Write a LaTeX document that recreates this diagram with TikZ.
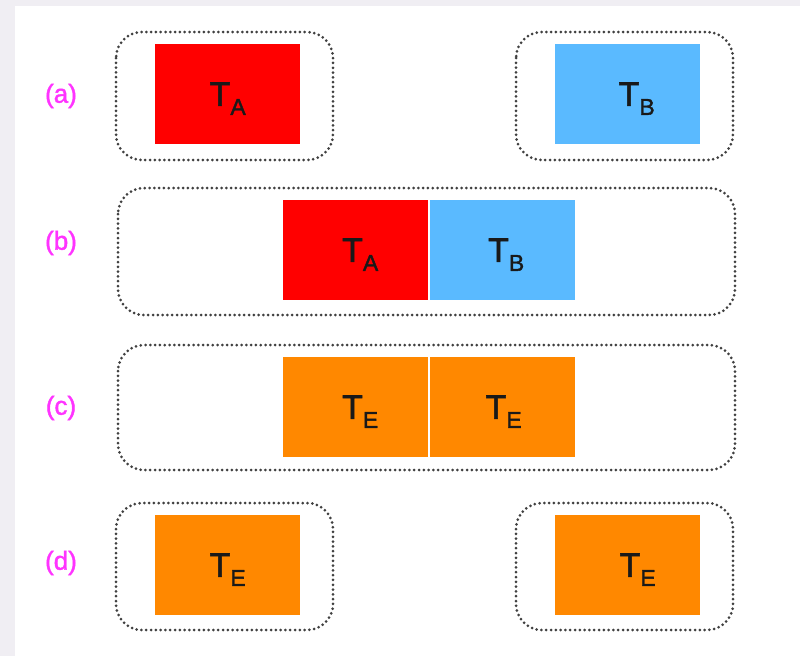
\documentclass[tikz,border=0pt]{standalone}
\usepackage{fontspec}
\setmainfont{Liberation Sans}[FakeBold=1.6,BoldFont=Liberation Sans]
\definecolor{bgstrip}{HTML}{F0EEF3}
\definecolor{tred}{HTML}{FF0000}
\definecolor{tblue}{HTML}{5ABAFF}
\definecolor{torange}{HTML}{FF8800}
\definecolor{lblmag}{HTML}{FF33FF}
\definecolor{dotgrey}{HTML}{404040}
\newcommand{\tsub}[1]{T\raisebox{-9pt}{\fontsize{23}{24}\selectfont #1}}
\begin{document}
\begin{tikzpicture}[x=1pt,y=-1pt,
  group/.style={draw=dotgrey,line width=3pt,dash pattern=on 0pt off 4.8pt,line cap=round,rounded corners=26pt},
  task/.style={minimum width=145pt,minimum height=100pt,inner sep=0pt,text depth=0pt,anchor=north west,text=black!90,font=\fontsize{34}{36}\selectfont\bfseries},
  lbl/.style={text=lblmag,font=\fontsize{26}{28}\selectfont\bfseries}]
\useasboundingbox (0,0) rectangle (800,656);
\fill[bgstrip] (0,0) rectangle (800,656);
\fill[white] (15,6) rectangle (800,656);
% row a
\draw[group] (116,32) rectangle (333,160);
\draw[group] (516,32) rectangle (733,160);
\node[task,fill=tred] (a1) at (155,44) {\tsub{A}};
\node[task,fill=tblue] (a2) at (555,44) {\hspace*{18pt}\tsub{B}};
\node[lbl] (la) at (61,96) {(a)};
% row b
\draw[group] (118,188) rectangle (735,315);
\node[task,fill=tred] (b1) at (283,200) {\hspace*{9pt}\tsub{A}};
\node[task,fill=tblue] (b2) at (430,200) {\hspace*{7pt}\tsub{B}};
\node[lbl] (lb) at (61,243) {(b)};
% row c
\draw[group] (118,345) rectangle (735,470);
\node[task,fill=torange] (c1) at (283,357) {\hspace*{9pt}\tsub{E}};
\node[task,fill=torange] (c2) at (430,357) {\hspace*{2pt}\tsub{E}};
\node[lbl] (lc) at (61,408) {(c)};
% row d
\draw[group] (116,503) rectangle (333,630);
\draw[group] (516,503) rectangle (733,630);
\node[task,fill=torange] (d1) at (155,515) {\tsub{E}};
\node[task,fill=torange] (d2) at (555,515) {\hspace*{20pt}\tsub{E}};
\node[lbl] (ld) at (61,563) {(d)};
\end{tikzpicture}
\end{document}
